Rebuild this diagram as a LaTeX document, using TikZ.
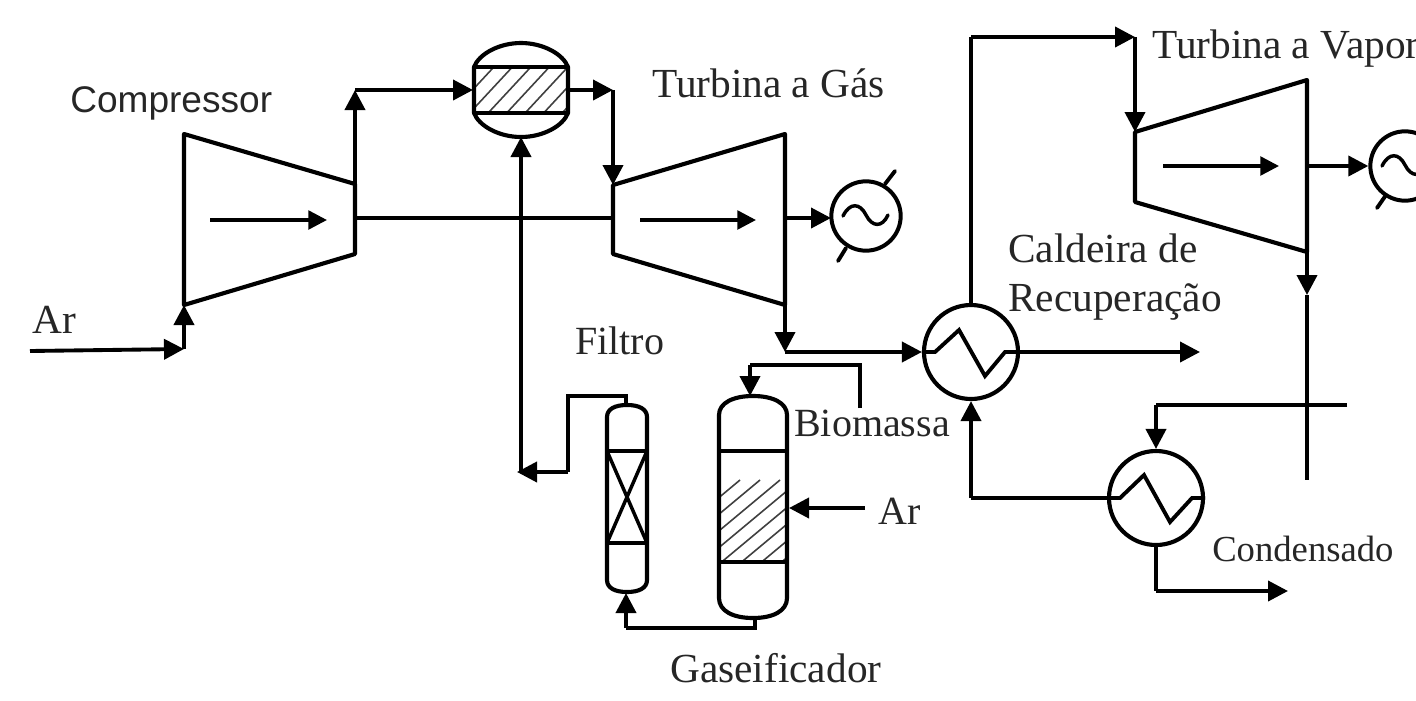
\documentclass[tikz,border=0pt]{standalone}
\usepackage{fontspec}
\setmainfont{Liberation Serif}
\newfontfamily\arialfont{Liberation Sans}
\usetikzlibrary{arrows.meta}
\tikzset{
  pipe/.style={line width=2.9pt,line join=miter,draw=black},
  flow/.style={pipe,-{Triangle[length=15pt,width=15pt]}},
  thinflow/.style={line width=2.6pt,-{Triangle[length=14pt,width=14pt]}},
  body/.style={line width=3.1pt,line join=round,draw=black},
  hatch/.style={line width=1.2pt,draw=black!75},
  unit/.style={circle,draw=black,line width=3.1pt,inner sep=0pt,minimum size=70.5pt},
  gen/.style={circle,draw=black,line width=3pt,inner sep=0pt,minimum size=52pt},
  lab/.style={anchor=base west,inner sep=0pt,text=black!85},
  big/.style={lab,font=\fontsize{31pt}{36pt}\selectfont},
  mid/.style={lab,font=\fontsize{30pt}{35pt}\selectfont},
}
\begin{document}
\begin{tikzpicture}[x=.75pt,y=-.75pt]
\useasboundingbox (0,0) rectangle (1416,700);
\clip (0,0) rectangle (1416,700);
% key points
\coordinate (airin) at (30,351);
\coordinate (c1) at (184,134); \coordinate (c2) at (355,184);
\coordinate (c3) at (355,254); \coordinate (c4) at (184,305);
\coordinate (t1) at (613,185); \coordinate (t2) at (785,134);
\coordinate (t3) at (785,305); \coordinate (t4) at (613,254);
\coordinate (s1) at (1135,132); \coordinate (s2) at (1307,80);
\coordinate (s3) at (1307,252); \coordinate (s4) at (1135,202);
% equipment
\node[unit] (hxa) at (971,352) {};
\node[unit] (hxb) at (1156,498) {};
\node[gen] (gena) at (866,216) {};
\node[gen] (genb) at (1405,166) {};
% compressor and turbines
\draw[body] (c1)--(c2)--(c3)--(c4)--cycle;
\draw[body] (t1)--(t2)--(t3)--(t4)--cycle;
\draw[body] (s1)--(s2)--(s3)--(s4)--cycle;
\coordinate (ca) at (210,220); \coordinate (cb) at (327,220);
\coordinate (ta) at (640,220); \coordinate (tb) at (756,220);
\coordinate (sa) at (1163,166); \coordinate (sb) at (1279,166);
\draw[thinflow] (ca)--(cb);
\draw[thinflow] (ta)--(tb);
\draw[thinflow] (sa)--(sb);
% combustor
\begin{scope}
\clip (474,67) rectangle (568,113);
\foreach \k in {0,...,9} \draw[hatch] (440+\k*18.5,125)--(505+\k*18.5,55);
\end{scope}
\draw[body] (474,67) .. controls (479,54) and (499,43) .. (521,43) .. controls (543,43) and (563,54) .. (568,67)
  -- (568,113) .. controls (563,126) and (543,137) .. (521,137) .. controls (499,137) and (479,126) .. (474,113) -- cycle;
\draw[body] (474,67)--(568,67) (474,113)--(568,113);
\coordinate (compin) at (473,90);
\coordinate (compout) at (568,90);
\coordinate (compbot) at (521,137);
% gasifier
\begin{scope}
\clip (719,451) rectangle (787,562);
\foreach \k in {0,...,10} \draw[hatch] (600+\k*20,580)--(720+\k*20,480);
\end{scope}
\draw[body] (719,415) .. controls (719,403) and (733,396) .. (753,396) .. controls (773,396) and (787,403) .. (787,415)
  -- (787,598) .. controls (787,611) and (773,618) .. (753,618) .. controls (733,618) and (719,611) .. (719,598) -- cycle;
\draw[body] (719,451)--(787,451) (719,562)--(787,562);
% filter
\draw[body] (607,417) .. controls (607,409) and (615,405) .. (627,405) .. controls (639,405) and (647,409) .. (647,417)
  -- (647,580) .. controls (647,588) and (639,592) .. (627,592) .. controls (615,592) and (607,588) .. (607,580) -- cycle;
\draw[body] (607,451)--(647,451) (607,543)--(647,543);
\draw[line width=2.6pt] (607,451)--(647,543) (647,451)--(607,543);
% heat exchanger coils
\draw[pipe,line join=miter] (hxa.west) -- (935,352)--(959,330)--(985,376)--(1005,352)--(hxa.east);
\draw[pipe,line join=miter] (hxb.west) -- (1120,498)--(1144,475)--(1170,522)--(1192,498)--(1205,498);
% generator waves and ticks
\draw[line width=2.6pt,line cap=round] (843,216) .. controls (850,202) and (860,203) .. (866,215) .. controls (872,227) and (882,228) .. (888,215);
\draw[line width=2.6pt,line cap=round] (1382,166) .. controls (1389,152) and (1399,153) .. (1405,165) .. controls (1411,177) and (1421,178) .. (1427,165);
\draw[pipe,line cap=round] (885,184)--(895,171) (846,248)--(838,261);
\draw[pipe,line cap=round] (1386,195)--(1377,208);
% connectors
\coordinate (ac) at (184,349);
\draw[flow] (airin)--(ac);
\draw[flow] (ac)--(c4);
\coordinate (cu) at (355,90);
\draw[flow] (c2)--(cu);
\draw[flow] (cu)--(compin);
\coordinate (shaftl) at (355,218); \coordinate (shaftr) at (613,218);
\draw[pipe] (shaftl)--(shaftr);
\coordinate (cc) at (613,90);
\draw[flow] (compout)--(cc);
\draw[flow] (cc)--(t1);
\coordinate (tg) at (785,218); \coordinate (tgb) at (831,218);
\draw[flow] (tg)--(tgb);
\coordinate (ex) at (785,352);
\draw[flow] (t3)--(ex);
\draw[flow] (ex)--(hxa.west);
\coordinate (hxo) at (1200,352);
\draw[flow] (hxa.east)--(hxo);
\coordinate (sup) at (971,37); \coordinate (sup2) at (1135,37);
\draw[pipe] (hxa.north)--(sup);
\draw[flow] (sup)--(sup2);
\draw[flow] (sup2)--(s1);
\coordinate (sg) at (1307,166);
\draw[flow] (sg)--(genb.west);
\coordinate (sm) at (1307,295); \coordinate (se) at (1307,480);
\draw[flow] (s3)--(sm);
\draw[pipe] (sm)--(se);
\coordinate (cr) at (1347,405); \coordinate (cl) at (1156,405);
\draw[pipe] (cr)--(cl);
\draw[flow] (cl)--(hxb.north);
\coordinate (ret) at (971,498);
\draw[pipe] (hxb.west)--(ret);
\draw[flow] (ret)--(hxa.south);
\coordinate (cd) at (1156,591); \coordinate (cde) at (1288,591);
\draw[pipe] (hxb.south)--(cd);
\draw[flow] (cd)--(cde);
\coordinate (bm1) at (860,408); \coordinate (bm2) at (860,365); \coordinate (bm3) at (750,365); \coordinate (bm4) at (750,396);
\draw[pipe] (bm1)--(bm2)--(bm3);
\draw[flow] (bm3)--(bm4);
\coordinate (ga) at (865,508); \coordinate (gb) at (789,508);
\draw[flow] (ga)--(gb);
\coordinate (gs) at (755,618); \coordinate (gs2) at (755,628); \coordinate (gs3) at (626,628); \coordinate (fb) at (626,593);
\draw[pipe] (gs)--(gs2)--(gs3);
\draw[flow] (gs3)--(fb);
\coordinate (ft) at (626,405); \coordinate (f2) at (626,396); \coordinate (f3) at (568,396); \coordinate (f4) at (568,472); \coordinate (f5) at (517,472);
\draw[pipe] (ft)--(f2)--(f3)--(f4);
\draw[flow] (f4)--(f5);
\coordinate (f6) at (521,472);
\draw[flow] (f6)--(compbot);
% labels
\node[lab,font=\arialfont\fontsize{27.8pt}{32pt}\selectfont] (lc) at (70,112) {Compressor};
\node[big] (ltg) at (652,97) {Turbina a Gás};
\node[big] (ltv) at (1152,58) {Turbina a Vapor};
\node[big] (lcd) at (1008,262) {Caldeira de};
\node[big] (lrc) at (1008,311) {Recuperação};
\node[mid] (lf) at (575,354) {Filtro};
\node[big] (lar) at (32,333) {Ar};
\node[mid] (lb) at (794,436) {Biomassa};
\node[mid] (lar2) at (878,524) {Ar};
\node[lab,font=\fontsize{27.5pt}{32pt}\selectfont] (lco) at (1212,561) {Condensado};
\node[big] (lg) at (670,682) {Gaseificador};
\end{tikzpicture}
\end{document}
